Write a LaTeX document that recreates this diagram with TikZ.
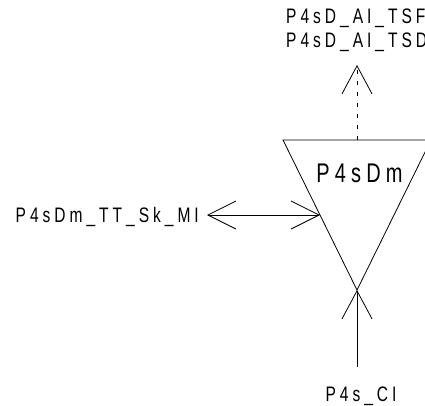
\documentclass[tikz,border=0pt]{standalone}
\usepackage{fontspec}
\setmainfont{Liberation Sans}
\newfontfamily\portfont{Liberation Sans}[FakeStretch=0.74, LetterSpace=19]
\newfontfamily\blockfont{Liberation Sans}[FakeStretch=0.74, LetterSpace=19]
\usetikzlibrary{arrows.meta, positioning}
\tikzset{
  barb/.style={line width=0.8pt, color=black},
  toflow/.style={barb, -{Straight Barb[length=28pt, width=30pt]}},
  bothflow/.style={barb, {Straight Barb[length=28pt, width=28pt]}-{Straight Barb[length=28pt, width=28pt]}},
  port/.style={inner sep=0pt, font=\portfont\fontsize{21}{24}\selectfont},
  every node/.append style={text=black}
}

\begin{document}
\begin{tikzpicture}[x=1pt, y=-1pt]
\useasboundingbox (0,0) rectangle (425,405);

% the block
\coordinate (dmtl) at (283,140);
\coordinate (dmtr) at (431,140);
\coordinate (dmapex) at (357,290);
\coordinate (dmtop) at (357,140);
\coordinate (dmleft) at (320,215);
\draw[barb] (dmtl) -- (dmtr) -- (dmapex) -- cycle;
\node[inner sep=0pt, anchor=base, font=\blockfont\fontsize{27}{27}\selectfont] (dm) at (359.5,182) {P4sDm};

% outputs
\node[port, anchor=base west] (tsf) at (286,23) {P4sD\_AI\_TSF};
\node[port, anchor=base west] (tsd) at (286,47) {P4sD\_AI\_TSD};
\coordinate (tsin) at (357,65);
\draw[toflow, dash pattern=on 4pt off 7pt] (dmtop) -- (tsin);

% sink
\node[port, anchor=base east] (sk) at (199,222) {P4sDm\_TT\_Sk\_MI};
\coordinate (skend) at (207,215);
\draw[bothflow] (skend) -- (dmleft);

% control
\node[port, anchor=base] (ci) at (361,401) {P4s\_CI};
\coordinate (ciend) at (357,367);
\draw[toflow] (ciend) -- (dmapex);

\end{tikzpicture}
\end{document}
